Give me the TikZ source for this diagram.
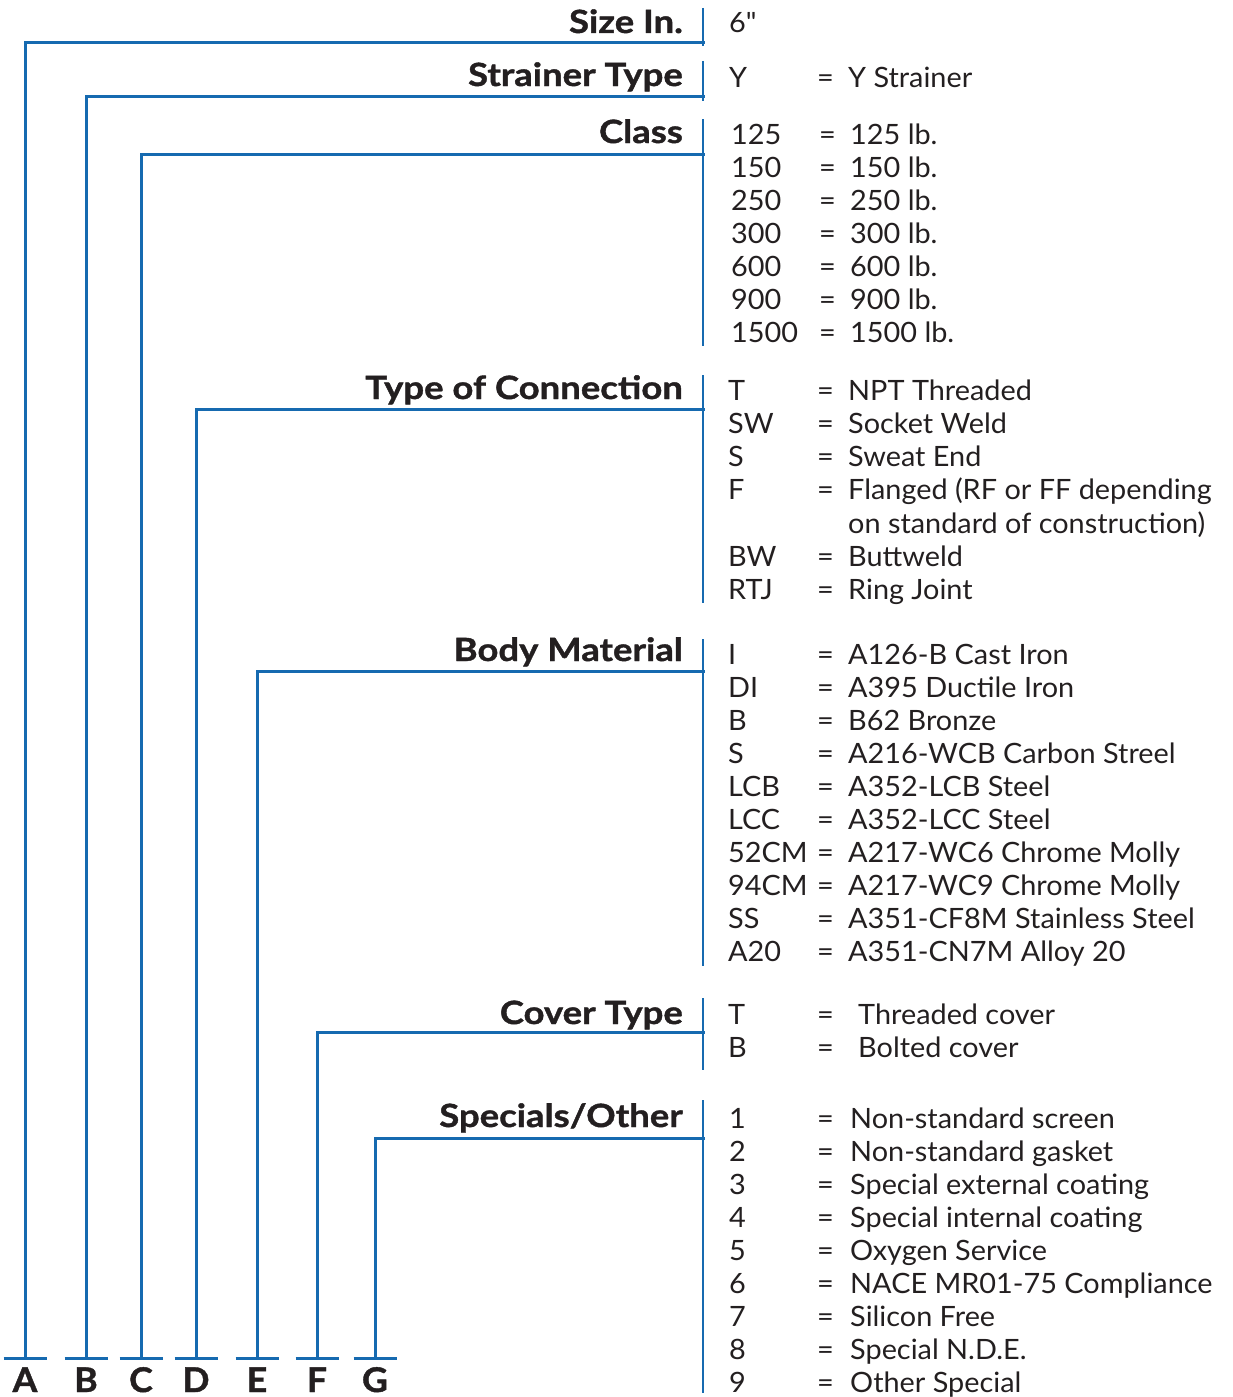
\documentclass[tikz,border=0pt]{standalone}
\usepackage{fontspec}
\setmainfont{Lato}[FakeStretch=1.03]
\newfontfamily\hfont{Lato}[FakeStretch=1.14,FakeBold=1.2]
\newfontfamily\lfont{Lato}[FakeStretch=1.05,FakeBold=1.2]
\definecolor{lineblue}{RGB}{22,106,176}
\definecolor{txt}{RGB}{35,31,32}
\begin{document}
\begin{tikzpicture}[x=1pt,y=-1pt,
  hdr/.style={anchor=base east,inner sep=0pt,font=\fontsize{32}{38}\hfont\bfseries,text=txt},
  code/.style={anchor=base west,inner sep=0pt,font=\fontsize{28}{33}\selectfont,text=txt},
  eqs/.style={anchor=base west,inner sep=0pt,font=\fontsize{28}{33}\selectfont,text=txt},
  val/.style={anchor=base west,inner sep=0pt,font=\fontsize{28}{33}\selectfont,text=txt},
  letter/.style={anchor=base,inner sep=0pt,font=\fontsize{34}{40}\lfont\bfseries,text=txt},
  bl/.style={draw=lineblue,line width=3pt},
]
\useasboundingbox (0,0) rectangle (1233,1397);

% headers
\node[hdr] (hSize) at (683,33) {Size In.};
\node[hdr] (hStr) at (683,86) {Strainer Type};
\node[hdr] (hCls) at (683,143) {Class};
\node[hdr] (hCon) at (683,399) {Type of Connection};
\node[hdr] (hBody) at (683,661) {Body Material};
\node[hdr] (hCov) at (683,1024) {Cover Type};
\node[hdr] (hSpec) at (683,1127) {Specials/Other};

% vertical separator segments
\draw[bl,line width=2.5pt] (703,8) coordinate (s1a) -- (703,46) coordinate (s1b);
\draw[bl,line width=2.5pt] (703,61) coordinate (s2a) -- (703,101) coordinate (s2b);
\draw[bl,line width=2.5pt] (703,119) coordinate (s3a) -- (703,346) coordinate (s3b);
\draw[bl,line width=2.5pt] (703,375) coordinate (s4a) -- (703,603) coordinate (s4b);
\draw[bl,line width=2.5pt] (703,639) coordinate (s5a) -- (703,966) coordinate (s5b);
\draw[bl,line width=2.5pt] (703,998) coordinate (s6a) -- (703,1070) coordinate (s6b);
\draw[bl,line width=2.5pt] (703,1100) coordinate (s7a) -- (703,1393) coordinate (s7b);

% leader lines
\coordinate (jA) at (703,43);   \coordinate (bA) at (25,1358);
\coordinate (jB) at (703,96);   \coordinate (bB) at (86,1358);
\coordinate (jC) at (703,154);  \coordinate (bC) at (141,1358);
\coordinate (jD) at (703,409);  \coordinate (bD) at (196,1358);
\coordinate (jE) at (703,671);  \coordinate (bE) at (257,1358);
\coordinate (jF) at (703,1032); \coordinate (bF) at (317,1358);
\coordinate (jG) at (703,1138); \coordinate (bG) at (375,1358);
\foreach \n in {A,B,C,D,E,F,G}{
  \draw[bl,line cap=rect] (j\n) -| (b\n);
  \draw[bl] ([xshift=-21.5pt]b\n) -- ([xshift=21.5pt]b\n);
  \node[letter] (L\n) at ([yshift=-34pt]b\n) {\n};
}

% Size
\node[code] (c1) at (729,33) {6{\addfontfeature{Ligatures=TeXOff}"}};
% Strainer
\node[code] (c2) at (729,88) {Y};
\node[eqs] (e2) at (817,88) {=};
\node[val] (v2) at (848,88) {Y Strainer};

% Class
\foreach \c [count=\i from 0] in {125,150,250,300,600,900,1500}{
  \node[code] (cc\i) at (731,{144+33*\i}) {\c};
  \node[eqs] (ce\i) at (819,{144+33*\i}) {=};
  \node[val] (cv\i) at (850,{144+33*\i}) {\c\ lb.};
}

% Type of connection
\foreach \c/\v [count=\i from 0] in {T/NPT Threaded,SW/Socket Weld,S/Sweat End,F/{Flanged (RF or FF depending}}{
  \node[code] (tc\i) at (728,{400+33*\i}) {\c};
  \node[eqs] (te\i) at (817,{400+33*\i}) {=};
  \node[val] (tv\i) at (848,{400+33*\i}) {\v};
}
\node[val] (tv4) at (848,533) {on standard of construction)};
\node[code] (tc5) at (728,566) {BW};
\node[eqs] (te5) at (817,566) {=};
\node[val] (tv5) at (848,566) {Buttweld};
\node[code] (tc6) at (728,599) {RTJ};
\node[eqs] (te6) at (817,599) {=};
\node[val] (tv6) at (848,599) {Ring Joint};

% Body material
\foreach \c/\v [count=\i from 0] in {I/A126-B Cast Iron,DI/A395 Ductile Iron,B/B62 Bronze,S/A216-WCB Carbon Streel,LCB/A352-LCB Steel,LCC/A352-LCC Steel,52CM/A217-WC6 Chrome Molly,94CM/A217-WC9 Chrome Molly,SS/A351-CF8M Stainless Steel,A20/A351-CN7M Alloy 20}{
  \node[code] (bc\i) at (728,{664+33*\i}) {\c};
  \node[eqs] (be\i) at (817,{664+33*\i}) {=};
  \node[val] (bv\i) at (848,{664+33*\i}) {\v};
}

% Cover type
\node[code] (vc0) at (728,1024) {T};
\node[eqs] (ve0) at (817,1024) {=};
\node[val] (vv0) at (858,1024) {Threaded cover};
\node[code] (vc1) at (728,1057) {B};
\node[eqs] (ve1) at (817,1057) {=};
\node[val] (vv1) at (858,1057) {Bolted cover};

% Specials
\foreach \v [count=\i from 1] in {Non-standard screen,Non-standard gasket,Special external coating,Special internal coating,Oxygen Service,NACE MR01-75 Compliance,Silicon Free,Special N.D.E.,Other Special}{
  \node[code] (pc\i) at (729,{1128+33*(\i-1)}) {\i};
  \node[eqs] (pe\i) at (817,{1128+33*(\i-1)}) {=};
  \node[val] (pv\i) at (850,{1128+33*(\i-1)}) {\v};
}
\end{tikzpicture}
\end{document}
